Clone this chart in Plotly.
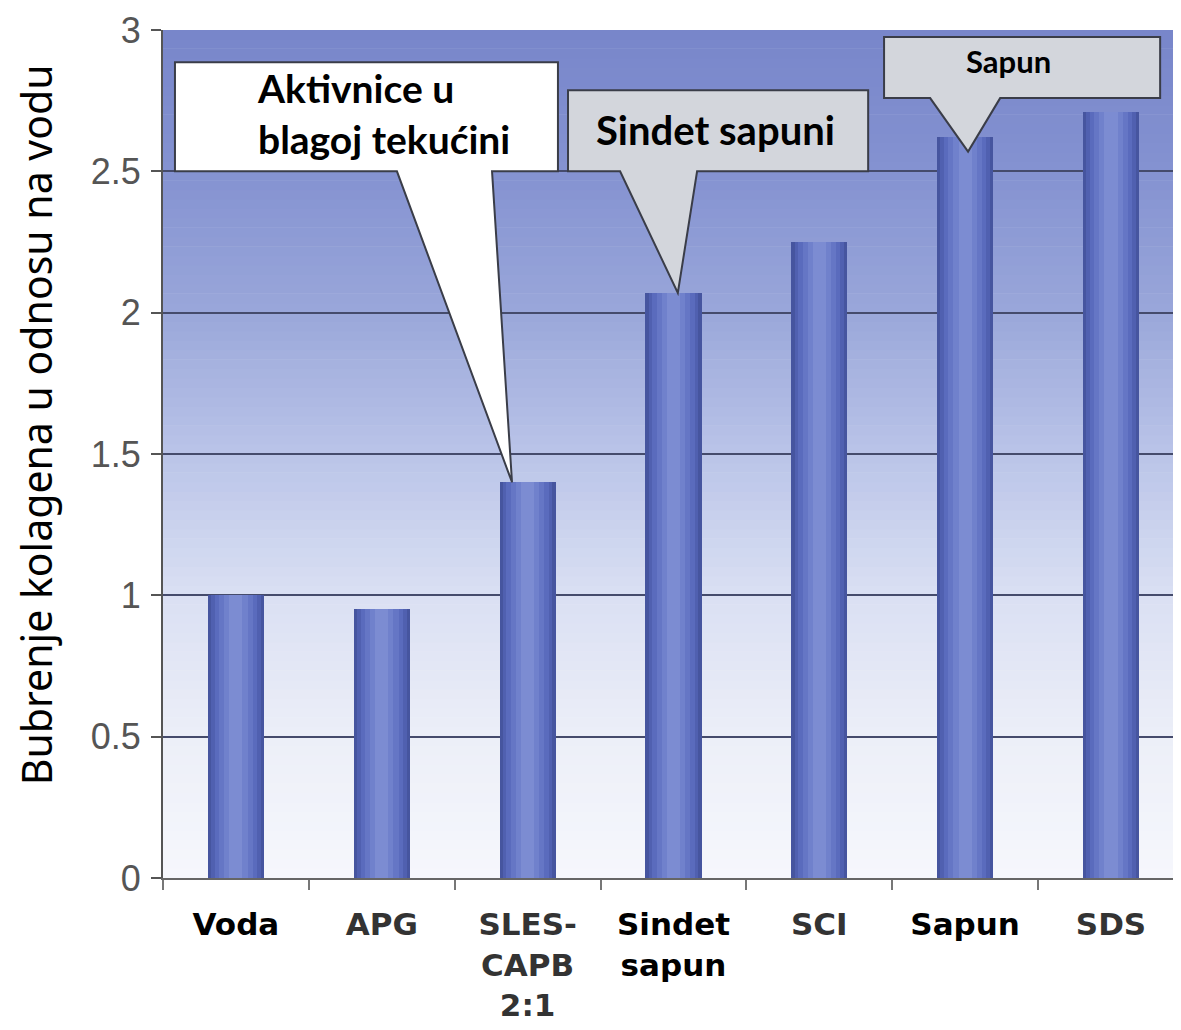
import plotly.graph_objects as go

# ---------------- data ----------------
categories = ["Voda", "APG", "SLES-CAPB 2:1", "Sindet sapun", "SCI", "Sapun", "SDS"]
values = [1.0, 0.95, 1.40, 2.07, 2.25, 2.62, 2.71]
GRAY = "<span style=\"color:#333333\">%s</span>"
x_tick_labels = [
    "Voda",
    GRAY % "APG",
    (GRAY % "SLES-") + "<br>" + (GRAY % "CAPB") + "<br>" + (GRAY % "2:1"),
    "Sindet<br>sapun",
    GRAY % "SCI",
    "Sapun",
    GRAY % "SDS",
]
y_tick_values = [0, 0.5, 1, 1.5, 2, 2.5, 3]
y_tick_labels = ["0", "0.5", "1", "1.5", "2", "2.5", "3"]
y_title = "Bubrenje kolagena u odnosu na vodu"
callout_texts = ["Aktivnice u<br>blagoj tekućini", "Sindet sapuni", "Sapun"]
callout_targets = [2, 3, 5]  # index of the bar each callout points to

x = list(range(len(categories)))

fig = go.Figure()

# cylinder-like bars: stacked overlays of decreasing width
bar_layers = [
    (0.385, "#46559f"),
    (0.34, "#5060b0"),
    (0.29, "#5a6bbd"),
    (0.23, "#6576c5"),
    (0.16, "#7081cc"),
    (0.09, "#7c8cd2"),
]
for w, c in bar_layers:
    fig.add_trace(go.Bar(x=x, y=values, width=w, marker=dict(color=c, line=dict(width=0)),
                         hoverinfo="skip", showlegend=False))

# ---------------- background gradient ----------------
stops = [
    (0.0, (246, 247, 252)),
    (0.5, (236, 239, 248)),
    (1.0, (218, 224, 243)),
    (1.5, (186, 196, 232)),
    (2.0, (154, 167, 218)),
    (2.5, (132, 146, 209)),
    (3.0, (120, 134, 202)),
]


def interp(v):
    for (a, ca), (b, cb) in zip(stops[:-1], stops[1:]):
        if a <= v <= b:
            t = (v - a) / (b - a)
            return "rgb(%d,%d,%d)" % tuple(round(ca[i] + (cb[i] - ca[i]) * t) for i in range(3))
    return "rgb(%d,%d,%d)" % stops[-1][1]


shapes = []
n_bands = 90
for i in range(n_bands):
    y0 = 3.0 * i / n_bands
    y1 = 3.0 * (i + 1) / n_bands + 0.002
    shapes.append(dict(type="rect", xref="paper", yref="y", x0=0, x1=1, y0=y0, y1=min(y1, 3.0),
                       fillcolor=interp((y0 + y1) / 2), line=dict(width=0), layer="below"))

# ---------------- callouts ----------------
callout_geom = [
    dict(box=(-0.418, 2.5, 2.208, 2.886), base=(1.104, 1.756), tip=(-0.107, 0.0),
         fill="#ffffff", text_xy=(1.015, 2.703), size=39, align="left"),
    dict(box=(2.277, 2.5, 4.335, 2.787), base=(2.634, 3.162), tip=(0.03, 0.0),
         fill="#d3d6dc", text_xy=(3.285, 2.645), size=40, align="center"),
    dict(box=(4.444, 2.759, 6.337, 2.975), base=(4.76, 5.24), tip=(0.02, -0.05),
         fill="#d3d6dc", text_xy=(5.30, 2.89), size=31, align="center"),
]

annotations = []
for g, txt, tgt in zip(callout_geom, callout_texts, callout_targets):
    x0, yb, x1, yt = g["box"]
    bl, br = g["base"]
    tx = x[tgt] + g["tip"][0]
    ty = values[tgt] + g["tip"][1]
    path = (f"M {x0},{yt} L {x1},{yt} L {x1},{yb} L {br},{yb} L {tx},{ty} "
            f"L {bl},{yb} L {x0},{yb} Z")
    shapes.append(dict(type="path", xref="x", yref="y", path=path, fillcolor=g["fill"],
                       line=dict(color="#3a3d48", width=2), layer="above"))
    annotations.append(dict(x=g["text_xy"][0], y=g["text_xy"][1], xref="x", yref="y",
                            text=txt, showarrow=False, align=g["align"],
                            xanchor="center", yanchor="middle",
                            font=dict(family="Lato", size=g["size"], color="#000000",
                                      weight="bold")))

# y-axis title as rotated annotation
annotations.append(dict(x=-0.1247, y=0.534, xref="paper", yref="paper", text=y_title,
                        textangle=-90, showarrow=False, xanchor="center", yanchor="middle",
                        font=dict(family="Noto Sans", size=41, color="#000000")))

# the page body adds an 8px offset, so margins are compensated for it
fig.update_layout(
    width=1181, height=1030, autosize=False,
    margin=dict(l=155, r=8, t=22, b=160, autoexpand=False),
    paper_bgcolor="white", plot_bgcolor="white",
    barmode="overlay", bargap=0,
    shapes=shapes, annotations=annotations,
    showlegend=False,
)

fig.update_xaxes(
    range=[-0.5, 6.48], tickmode="array", tickvals=x, ticktext=x_tick_labels,
    ticks="", showgrid=False, zeroline=False, automargin=False,
    showline=True, linecolor="#666666", linewidth=2,
    tickfont=dict(family="DejaVu Sans", size=31, color="#000000", weight="bold"),
    ticklabelstandoff=18,
    minor=dict(tickmode="linear", tick0=-0.5, dtick=1, ticks="outside", ticklen=10,
               tickcolor="#777777", tickwidth=2, showgrid=False),
)
fig.update_yaxes(
    range=[0, 3], tickmode="array", tickvals=y_tick_values, ticktext=y_tick_labels,
    ticks="outside", ticklen=10, tickwidth=2, tickcolor="#555555",
    showline=True, linecolor="#555555", linewidth=2, automargin=False,
    showgrid=True, gridcolor="#454b6c", gridwidth=2, zeroline=False,
    tickfont=dict(family="Liberation Sans", size=36, color="#555555"),
    ticklabelstandoff=3,
)

fig.write_html("out.html")
